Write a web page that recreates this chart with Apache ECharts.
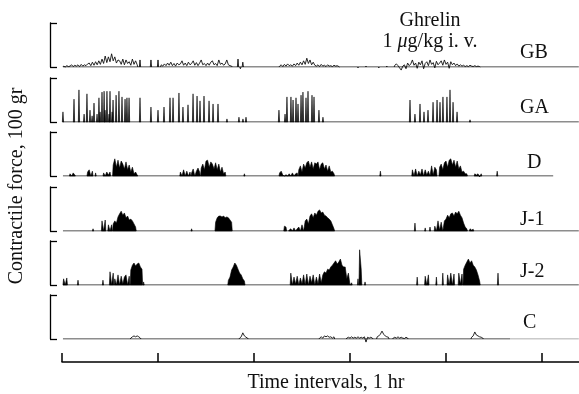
<!DOCTYPE html>
<html><head><meta charset="utf-8">
<script src="https://cdn.jsdelivr.net/npm/echarts@6/dist/echarts.min.js"></script>
<style>html,body{margin:0;padding:0;background:#fff}#c{width:579px;height:394px}</style>
</head><body><div id="c"></div>
<script>
// ---- data (time in minutes, force in gr; runs = [startMinute, h1, h2, ...] sampled every minute) ----
const traceNames = ['GB', 'GA', 'D', 'J-1', 'J-2', 'C'];
const tickMinutes = [0, 60, 120, 180, 240, 300];
const recordStart = 0.6;
const recordEnd = 323;
const traceEnds = [323, 323, 307, 323, 323, 280];

const gbRuns = [
  [1, 2,0,3,1,2,5,1,4,2,5,1,6,2,5,3,7, 9,3,11,4,12,5,14,6, 18,8,25,10,23,12,30,14,23,9,16, 14,6,18,5,16,8,12,4,18,6,14,5],
  [48.75,16],[55.6,16],[60,16],
  [62, 5,2,7,3,9,4,11,3,8,2,9,5,7,14, 4,9,3,11,5,8,14,4,10,3,9,16,5,8,3, 9,4,11,14,5,8,3,16,6,9,4,7,16,5,3,2],
  [110,18],[111.5,-4],[113,11],
  [136, 2,5,1,6,2,7,3,5,2,7,3,9,4,11, 5,14,6,20,8,16,5,11,4, 2,5,1,6,2,4,1,5,2,3,1,4,2,3,1],
  [185,-2],[190,2],[198,-2],[203,2],
  [208, 4,7,3,-2,-7,2, 5,-4,9,3,7,16,4, 9,-3,11,5,14,-4,8,12,3,16,6,10,-2,13,5, 9,14,4,16,6,11,-3,12,5,9,3,7,2,5, 2,4,1,3,1,4,2,1,3,1,2,1]
];

const gaRuns = [
  [0.6,23],[7.5,52],[10.6,73],[13.8,18],[15.6,64],[17.5,27],[18.8,14],[20,43],[21.9,18],[23.1,55],[23.8,23],
  [25,68],[26.3,70],[26.9,27],[28.1,70],[29.4,18],[30,70],[31.3,23],[31.9,50],[33.8,61],[35.6,70],[37.5,57],
  [39.4,52],[40.6,55],[41.9,55],[48.75,55],[55.6,34],[60,27],[63.75,34],[67.5,55],[69.4,55],[73.1,66],[75.6,34],
  [78.75,39],[81.9,64],[84.4,59],[86.25,48],[88.75,59],[91.9,48],[94.4,41],[97.5,41],[103.1,7],[110.6,11],
  [113.1,7],[115,11],[135.6,27],[139.4,18],[140.6,57],[143.1,57],[144.4,50],[146.25,55],[147.5,41],[149.4,61],
  [150.6,68],[152.5,55],[153.75,70],[156.25,61],[157.5,57],[160.6,27],[163.1,11],[217.5,50],[220.6,18],
  [223.75,41],[226.25,23],[228.75,27],[231.9,45],[234.4,50],[236.25,45],[238.1,57],[240.6,57],[242.5,73],
  [244.4,45],[246.9,23],[255,5]
];

const dRuns = [
  [5, 5,0,7,2],
  [16, 9,14,0,11],
  [21, 7],
  [26, 7,0,9,2,9],
  [32, 25,39,20,36,18,34,27,16,32,14,25,9,20,5,9,2],
  [74, 9,0,14,0,11,0,9],
  [81, 7,16,0,11,18,9],
  [87, 18,27,14,34,36,20,32,27,16,30,14,27,9,20,5,9],
  [114, 5],
  [136, 7,11,2,0,3,0,5,0,7,0,5,7],
  [148, 14,23,9,27,18,30,34,20,32,16,30,27,32,14,27,30,16,25,11,23,9,11,5],
  [199, 11],
  [219, 14,0,16,0,11,2,16,0,14,2,11,0,23,2,20,14],
  [236, 20,27,14,30,34,20,36,39,25,36,20,34,16,23,9,11,5,5],
  [258, 5,2,5,-2,5],
  [272, 11]
];

const j1Runs = [
  [19.4, 5],
  [25, 23,0,25],
  [29, 14,0,14],
  [32, 16,23,18,32,39,45,36,41,30,34,25,27,23,16,9],
  [81, 5],
  [96, 20,30,34,34,32,34,30,32,30,25,20],
  [139, 11,9],
  [142, 2,5,0,7,0,5,9,0,14,0,23,27,16,34,39,30,41,36,45,48,41,43,36,34,30,27,23,14,5],
  [220.6, 18],
  [227, 7],
  [230, 9],
  [233, 11,0,23,2,20,0,23,27,36,30,39,41,34,43,39,45,36,30,18,9,5],
  [255, 5,2,4]
];

const j2Runs = [
  [1, 14,0,16],
  [10, 11],
  [25.6, 11],
  [30, 30,0,27],
  [33, 14,0,23,0,20,2,18,23,0,20],
  [43, 34,45,50,43,48,50,41,36],
  [51, 7],
  [104, 11,18,34,41,50,45,36,27,23,14,9],
  [143, 27,0,18,2,20,0,16,2,23,0,25,0,20,5,23,0,18,2,25,5,23, 30,27,36,34,41,45,50,55,48,52,59,45,41,41,14,27,0,5],
  [185, 14],
  [186, 80,36],
  [189.4, 7],
  [222, 18],
  [227, 20,0,23],
  [234, 18],
  [238, 27],
  [241, 23,0,27,0,25],
  [248, 27,2,25],
  [251, 36,45,52,59,50,55,45,41,34,23,9],
  [272.5, 27]
];

const cRuns = [
  [43, 2,5,7,5,7,5,2],
  [111, 2,5,14,7,4,2],
  [161, 2,5,2,7,5,7,4,5,2,5],
  [178, 2,4,2,5,2,4,2,5,2,4,2,5,-7,4,2,4,2],
  [197, 5,7,11,18,11,7,5,4],
  [207, 2,4,2,5,2,4,2,1,4,2],
  [256, 4,7,16,9,7,5,4,2]
];

// ---- layout / style ----
const allRuns = [gbRuns, gaRuns, dRuns, j1Runs, j2Runs, cRuns];
const filled = [false, true, true, true, true, false];
const baselines = [67, 122, 176, 231, 285, 339];
const labelPos = [[520, 53], [520, 108], [527, 163], [520, 220], [520, 272], [523, 323]];
const STEP = 1, HW = 0.4, XMAX = 323.125, BAR_PX = 44, FS = 20;
const FONT = '"Liberation Serif", "Times New Roman", serif';

function runPoints(r) {
  const t0 = r[0], hs = r.slice(1), pts = [[t0 - HW, 0]];
  hs.forEach((h, i) => pts.push([t0 + i * STEP, h]));
  pts.push([t0 + (hs.length - 1) * STEP + HW, 0]);
  return pts;
}

const grid = [], xAxis = [], yAxis = [], series = [];
traceNames.forEach((n, i) => {
  grid.push({left: 62, right: 0, top: baselines[i] - BAR_PX, height: BAR_PX});
  xAxis.push({gridIndex: i, type: 'value', min: 0, max: XMAX, show: false});
  yAxis.push({
    gridIndex: i, type: 'value', min: 0, max: 100, interval: 100, offset: 12,
    axisLine: {show: true, onZero: false, lineStyle: {color: '#000', width: 1.3}},
    axisTick: {show: true, inside: true, length: 7, lineStyle: {color: '#000', width: 1.3}},
    axisLabel: {show: false}, splitLine: {show: false}
  });
  // baseline of the record
  series.push({
    type: 'line', xAxisIndex: i, yAxisIndex: i, symbol: 'none', silent: true,
    data: [[recordStart, 0], [traceEnds[i], 0]],
    lineStyle: {color: '#000', width: 0.9}
  });
  // contraction events
  const runs = allRuns[i];
  series.push({
    type: 'custom', name: n, xAxisIndex: i, yAxisIndex: i, silent: true,
    data: runs.map(r => [r[0], Math.max.apply(null, r.slice(1))]),
    renderItem: (params, api) => {
      const pts = runPoints(runs[params.dataIndex]).map(p => api.coord(p));
      return filled[i]
        ? {type: 'polygon', shape: {points: pts}, style: {fill: '#000', stroke: '#000', lineWidth: 0.6}}
        : {type: 'polyline', shape: {points: pts}, style: {fill: null, stroke: '#111', lineWidth: 0.9}};
    }
  });
});
// faint continuation of the C record
series.push({
  type: 'line', xAxisIndex: 5, yAxisIndex: 5, symbol: 'none', silent: true,
  data: [[traceEnds[5], 0], [recordEnd, 0]],
  lineStyle: {color: '#888', width: 0.9}
});
// time axis
grid.push({left: 62, right: 0, top: 340, height: 22});
xAxis.push({
  gridIndex: 6, type: 'value', min: 0, max: XMAX, interval: 60,
  axisLine: {show: true, onZero: false, lineStyle: {color: '#000', width: 1.5}},
  axisTick: {show: true, inside: true, length: 9, customValues: tickMinutes, lineStyle: {color: '#000', width: 1.5}},
  axisLabel: {show: false}, splitLine: {show: false}
});
yAxis.push({gridIndex: 6, type: 'value', min: 0, max: 1, show: false});

const txt = (text, x, y, extra) => Object.assign({
  type: 'text', x: x, y: y, silent: true,
  style: Object.assign({text: text, fill: '#111', font: FS + 'px ' + FONT, align: 'left', verticalAlign: 'middle'}, extra || {})
});

const graphic = traceNames.map((n, i) => txt(n, labelPos[i][0], labelPos[i][1]));
graphic.push(txt('Ghrelin', 430, 21, {align: 'center'}));
graphic.push({
  type: 'text', x: 430, y: 42, silent: true,
  style: {
    text: '1 {i|μ}g/kg i. v.', fill: '#111', font: FS + 'px ' + FONT, align: 'center', verticalAlign: 'middle',
    rich: {i: {fontStyle: 'italic', fontFamily: FONT, fontSize: FS, fill: '#111'}}
  }
});
graphic.push(txt('Time intervals, 1 hr', 326, 383, {align: 'center'}));
graphic.push(Object.assign(txt('Contractile force, 100 gr', 17, 186, {align: 'center'}), {rotation: Math.PI / 2}));

const chart = echarts.init(document.getElementById('c'), null, {renderer: 'canvas', width: 579, height: 394});
chart.setOption({animation: false, backgroundColor: '#fff', grid, xAxis, yAxis, series, graphic});
</script>
</body></html>
